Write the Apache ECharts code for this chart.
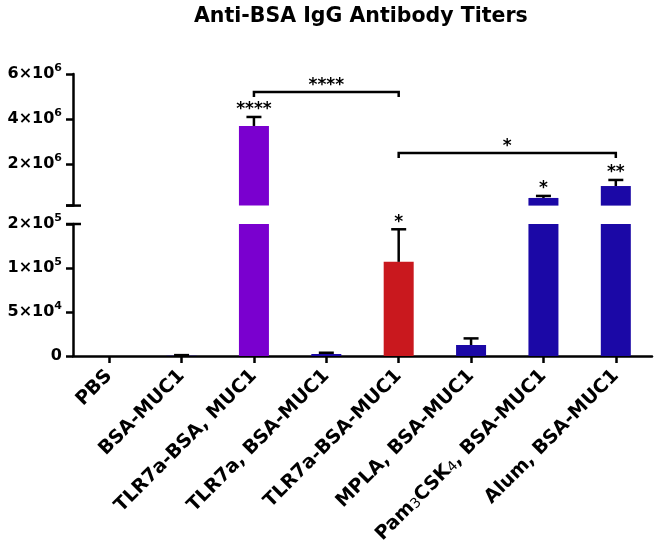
<!DOCTYPE html>
<html>
<head>
<meta charset="utf-8">
<script src="https://cdn.jsdelivr.net/npm/echarts@6/dist/echarts.min.js"></script>
<style>html,body{margin:0;padding:0;background:#fff}#chart{width:660px;height:553px}</style>
</head>
<body>
<div id="chart"></div>
<script>
// ---------- data ----------
const categories = ['PBS', 'BSA-MUC1', 'TLR7a-BSA, MUC1', 'TLR7a, BSA-MUC1', 'TLR7a-BSA-MUC1', 'MPLA, BSA-MUC1', 'Pam3CSK4, BSA-MUC1', 'Alum, BSA-MUC1'];
const titerMean = [0, 300, 3690000, 2300, 107000, 12500, 490000, 1020000];
const titerError = [0, 700, 400000, 1400, 37000, 7500, 90000, 270000];
const sigLabels = ['', '', '****', '', '*', '', '*', '**'];
const bracketFrom = [2, 4];
const bracketTo = [4, 7];
const bracketLevel = [5200000, 2490000];
const bracketLabels = ['****', '*'];
const lowerTickValues = [0, 50000, 100000, 150000];
const lowerTickLabels = ['0', '5×10^4', '1×10^5', '2×10^5'];
const upperTickValues = [2000000, 4000000, 6000000];
const upperTickLabels = ['2×10^6', '4×10^6', '6×10^6'];
const lowerMin = 0, lowerMax = 150000;
const upperMin = 150000, upperMax = 6000000;

// ---------- style ----------
const FONT = 'DejaVu Sans';
const PURPLE = '#7a00cf', RED = '#c9181e', BLUE = '#1b08a6';
const barColors = [BLUE, BLUE, PURPLE, BLUE, RED, BLUE, BLUE, BLUE];
const LW = 2.5;

function tickFmt(values, labels) {
  return function (v) {
    let i = values.findIndex(t => Math.abs(t - v) < 1e-6 * Math.max(1, Math.abs(t)));
    if (i < 0) return '';
    const s = labels[i];
    const parts = s.split('^');
    if (parts.length === 1) return '{b|' + s + '}';
    return '{b|' + parts[0] + '}{s|' + parts[1] + '}';
  };
}
const yRich = {
  b: { fontFamily: FONT, fontWeight: 'bold', fontSize: 16, color: '#000', lineHeight: 22 },
  s: { fontFamily: FONT, fontWeight: 'bold', fontSize: 11, color: '#000', lineHeight: 10, verticalAlign: 'top' }
};

const gridLeft = 73, gridRight = 8;
const grids = [
  { left: gridLeft, right: gridRight, top: 224, height: 132, outerBoundsMode: 'none', containLabel: false },
  { left: gridLeft, right: gridRight, top: 74, height: 131.6, outerBoundsMode: 'none', containLabel: false }
];

function mainY(gridIndex, min, max, tickVals, labelVals, labelStrs) {
  return {
    type: 'value', gridIndex, min, max, position: 'left',
    axisLine: { show: true, onZero: false, lineStyle: { color: '#000', width: LW } },
    axisTick: { show: true, customValues: tickVals, length: 7, lineStyle: { color: '#000', width: LW } },
    axisLabel: { show: true, customValues: labelVals, margin: 11, formatter: tickFmt(labelVals, labelStrs), rich: yRich },
    splitLine: { show: false }
  };
}

function catFmt(v) {
  if (/^Pam3CSK4/.test(v)) {
    return '{c|Pam}{n|3}{c|CSK}{n|4}{c|' + v.replace(/^Pam3CSK4/, '') + '}';
  }
  return '{c|' + v + '}';
}

function makeErrorRender(axMin, axMax) {
  return function (params, api) {
    const idx = api.value(0), mean = api.value(1), err = api.value(2);
    const top = mean + err;
    if (top < axMin || top > axMax) return null;
    const pTop = api.coord([idx, top]);
    const pMean = api.coord([idx, Math.max(mean, axMin)]);
    const children = [];
    if (err > 0) {
      children.push({ type: 'line', shape: { x1: pTop[0], y1: pTop[1], x2: pTop[0], y2: pMean[1] }, style: { stroke: '#000', lineWidth: LW } });
      children.push({ type: 'line', shape: { x1: pTop[0] - 7.5, y1: pTop[1], x2: pTop[0] + 7.5, y2: pTop[1] }, style: { stroke: '#000', lineWidth: LW } });
    }
    const sig = sigLabels[params.dataIndex];
    if (sig) {
      children.push({ type: 'text', style: { text: sig, x: pTop[0], y: pTop[1] - 7, align: 'center', verticalAlign: 'middle', font: 'bold 17px "' + FONT + '"', fill: '#000' } });
    }
    return { type: 'group', children };
  };
}

function bracketRender(params, api) {
  const a = api.coord([api.value(0), api.value(2)]);
  const b = api.coord([api.value(1), api.value(2)]);
  const y = a[1];
  return {
    type: 'group', children: [
      { type: 'polyline', shape: { points: [[a[0], y + 5], [a[0], y], [b[0], y], [b[0], y + 5]] }, style: { stroke: '#000', lineWidth: LW, fill: null } },
      { type: 'text', style: { text: bracketLabels[params.dataIndex], x: (a[0] + b[0]) / 2, y: y - 6, align: 'center', verticalAlign: 'middle', font: 'bold 17px "' + FONT + '"', fill: '#000' } }
    ]
  };
}

const barData = titerMean.map((v, i) => ({ value: v, itemStyle: { color: barColors[i] } }));
const errData = titerMean.map((v, i) => [i, v, titerError[i]]);
const bracketData = bracketFrom.map((f, i) => [f, bracketTo[i], bracketLevel[i]]);

const option = {
  animation: false,
  backgroundColor: '#fff',
  title: {
    text: 'Anti-BSA IgG Antibody Titers', left: 189, top: 1,
    textStyle: { fontFamily: FONT, fontWeight: 'bold', fontSize: 20.5, color: '#000' }
  },
  grid: grids,
  xAxis: [
    {
      type: 'category', gridIndex: 0, data: categories,
      axisLine: { show: true, onZero: false, lineStyle: { color: '#000', width: LW } },
      axisTick: { show: true, alignWithLabel: true, length: 7, lineStyle: { color: '#000', width: LW } },
      axisLabel: {
        interval: 0, rotate: 45, margin: 17, formatter: catFmt,
        rich: {
          c: { fontFamily: FONT, fontWeight: 'bold', fontSize: 19, color: '#000' },
          n: { fontFamily: FONT, fontWeight: 'normal', fontSize: 14, color: '#000', verticalAlign: 'bottom' }
        }
      },
      splitLine: { show: false }
    },
    { type: 'category', gridIndex: 1, data: categories, show: false }
  ],
  yAxis: [
    mainY(0, lowerMin, lowerMax, lowerTickValues, lowerTickValues, lowerTickLabels),
    mainY(1, upperMin, upperMax, [upperMin].concat(upperTickValues), upperTickValues, upperTickLabels)
  ],
  series: [
    { type: 'bar', xAxisIndex: 0, yAxisIndex: 0, data: barData, barWidth: 30, clip: true, z: 2 },
    { type: 'bar', xAxisIndex: 1, yAxisIndex: 1, data: barData, barWidth: 30, clip: true, z: 2 },
    { type: 'custom', xAxisIndex: 0, yAxisIndex: 0, data: errData, renderItem: makeErrorRender(lowerMin, lowerMax), z: 3, clip: false },
    { type: 'custom', xAxisIndex: 1, yAxisIndex: 1, data: errData, renderItem: makeErrorRender(upperMin, upperMax), z: 3, clip: false },
    { type: 'custom', xAxisIndex: 1, yAxisIndex: 1, data: bracketData, renderItem: bracketRender, z: 3, clip: false }
  ]
};
const chart = echarts.init(document.getElementById('chart'), null, { renderer: 'canvas' });
chart.setOption(option);

// axis-break end marks: short bars across the y axis, placed through the axes' own scales
const pLow = chart.convertToPixel({ gridIndex: 0 }, [0, lowerMax]);
const pUp = chart.convertToPixel({ gridIndex: 1 }, [0, upperMin]);
const p1 = chart.convertToPixel({ gridIndex: 0 }, [1, 0]);
const axisX = pLow[0] - (p1[0] - pLow[0]) / 2;
chart.setOption({
  graphic: [
    { type: 'line', z: 100, shape: { x1: axisX - 7, y1: pLow[1], x2: axisX + 8, y2: pLow[1] }, style: { stroke: '#000', lineWidth: LW } },
    { type: 'line', z: 100, shape: { x1: axisX - 7, y1: pUp[1], x2: axisX + 8, y2: pUp[1] }, style: { stroke: '#000', lineWidth: LW } }
  ]
});
</script>
</body>
</html>
